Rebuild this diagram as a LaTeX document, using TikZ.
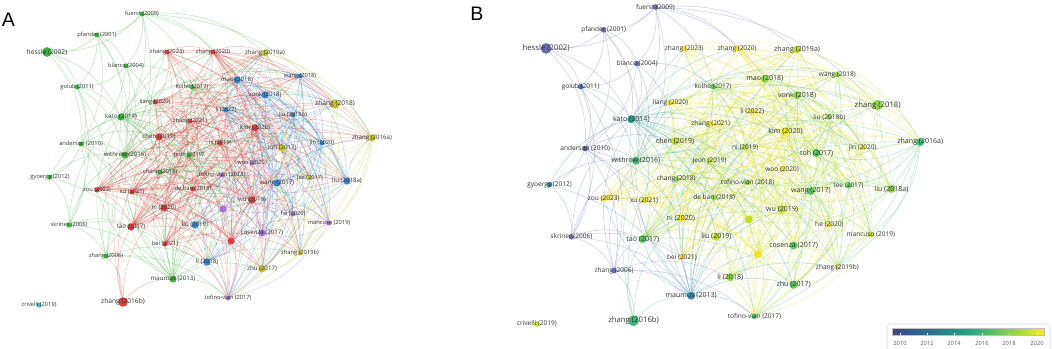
\documentclass[tikz,border=0pt]{standalone}
\usepackage{fontspec}
\setmainfont{Liberation Sans}
\newfontfamily\labfont{Open Sans}
\pgfdeclarelayer{bg}
\pgfdeclarelayer{edges}
\pgfsetlayers{bg,edges,main}
% cluster colours (panel A)
\definecolor{gA}{HTML}{3DB23D}
\definecolor{rA}{HTML}{E23B3B}
\definecolor{bA}{HTML}{2E88D4}
\definecolor{yA}{HTML}{C6C62A}
\definecolor{pA}{HTML}{A46FDC}
\definecolor{cA}{HTML}{38BCD8}
% year colours (panel B)
\definecolor{yOld}{HTML}{6B6CB8}
\definecolor{y10}{HTML}{5A63AD}
\definecolor{y11}{HTML}{4B70B0}
\definecolor{y12}{HTML}{3D80AD}
\definecolor{y13}{HTML}{2B8FA6}
\definecolor{y14}{HTML}{22A08E}
\definecolor{y16}{HTML}{3BBA78}
\definecolor{y17}{HTML}{5BC663}
\definecolor{y18}{HTML}{8ED548}
\definecolor{y19}{HTML}{C6DF25}
\definecolor{y20}{HTML}{F2E31E}
\definecolor{labc}{HTML}{333333}
\definecolor{v0}{HTML}{414487}
\definecolor{v1}{HTML}{2C728E}
\definecolor{v2}{HTML}{21A585}
\definecolor{v3}{HTML}{7AD151}
\definecolor{v4}{HTML}{FDE725}
\pgfdeclarehorizontalshading{viridis}{100bp}{color(0bp)=(v0); color(25bp)=(v0); color(37.5bp)=(v1); color(50bp)=(v2); color(62.5bp)=(v3); color(75bp)=(v4); color(100bp)=(v4)}
\tikzset{
  dot/.style={circle,inner sep=0pt,draw=none},
  dotA1/.style={dot,minimum size=3.75pt},
  dotA2/.style={dot,minimum size=5.4pt},
  dotA3/.style={dot,minimum size=7.2pt},
  dotB1/.style={dot,minimum size=4.2pt},
  dotB2/.style={dot,minimum size=6pt},
  dotB3/.style={dot,minimum size=8pt},
  lab/.style={inner sep=0pt,text=labc},
  labA1/.style={lab,font=\labfont\fontsize{4.3}{5}\selectfont},
  labA2/.style={lab,font=\labfont\fontsize{4.6}{5.5}\selectfont},
  labA3/.style={lab,font=\labfont\fontsize{5}{6}\selectfont},
  labB1/.style={lab,font=\labfont\fontsize{4.9}{6}\selectfont},
  labB2/.style={lab,font=\labfont\fontsize{5.3}{6.5}\selectfont},
  labB3/.style={lab,font=\labfont\fontsize{5.8}{7}\selectfont},
  link/.style={line width=0.4pt,opacity=0.32,bend left=22},
  panel/.style={inner sep=0pt,font=\fontsize{14.7}{15}\selectfont},
  tick/.style={inner sep=0pt,text=labc!80,font=\labfont\fontsize{4.3}{5}\selectfont},
}
% id, x, y, label, colour A, colour B, size class
\newcommand\nodelist{%
\nd{1}{142}{14}{fuerst (2009)}{gA}{yOld}{1}%
\nd{2}{97}{35}{pfander (2001)}{gA}{yOld}{1}%
\nd{3}{47}{52}{hessle (2002)}{gA}{yOld}{3}%
\nd{4}{126}{66}{blanco (2004)}{gA}{yOld}{1}%
\nd{5}{77}{87}{golub (2011)}{gA}{y11}{1}%
\nd{6}{81}{144}{anderson (2010)}{gA}{y10}{1}%
\nd{7}{50}{177}{gyoergy (2012)}{gA}{y12}{1}%
\nd{8}{69}{225}{skriner (2006)}{gA}{yOld}{1}%
\nd{9}{106}{256}{zhang (2006)}{gA}{yOld}{1}%
\nd{10}{173}{279}{maumus (2013)}{gA}{y13}{2}%
\nd{11}{121}{117}{kato (2014)}{gA}{y14}{2}%
\nd{12}{125}{155}{withrow (2016)}{gA}{y16}{2}%
\nd{13}{192}{87}{kolhe (2017)}{gA}{y17}{1}%
\nd{14}{189}{155}{jeon (2019)}{gA}{y19}{1}%
\nd{15}{160}{172}{chang (2018)}{gA}{y18}{1}%
\nd{16}{167}{52}{zhang (2023)}{rA}{y20}{1}%
\nd{17}{213}{52}{zhang (2020)}{rA}{y20}{1}%
\nd{18}{155}{102}{liang (2020)}{rA}{y20}{1}%
\nd{19}{190}{121}{zhang (2021)}{rA}{y20}{1}%
\nd{20}{255}{128}{kim (2020)}{rA}{y20}{2}%
\nd{21}{159}{137}{chen (2019)}{rA}{y19}{2}%
\nd{22}{220}{143}{ni (2019)}{rA}{y19}{1}%
\nd{23}{97}{190}{zou (2023)}{rA}{y20}{1}%
\nd{24}{132}{192}{xu (2021)}{rA}{y20}{1}%
\nd{25}{193}{189}{de bari (2018)}{rA}{y18}{1}%
\nd{26}{164}{208}{ni (2020)}{rA}{y20}{2}%
\nd{27}{131}{227}{tao (2017)}{rA}{y17}{2}%
\nd{28}{252}{200}{wu (2019)}{rA}{y19}{2}%
\nd{29}{165}{244}{bei (2021)}{rA}{y20}{1}%
\nd{30}{231}{241}{}{rA}{y20}{2}%
\nd{31}{123}{302}{zhang (2016b)}{rA}{y16}{3}%
\nd{32}{237}{80}{mao (2018)}{bA}{y18}{2}%
\nd{33}{226}{110}{li (2022)}{bA}{y20}{1}%
\nd{34}{265}{95}{vonk (2018)}{bA}{y18}{2}%
\nd{35}{300}{76}{wang (2018)}{bA}{y18}{1}%
\nd{36}{293}{115}{liu (2018b)}{bA}{y18}{1}%
\nd{37}{322}{143}{jin (2020)}{bA}{y20}{1}%
\nd{38}{277}{183}{wang (2017)}{bA}{y17}{2}%
\nd{39}{347}{181}{liu (2018a)}{bA}{y18}{2}%
\nd{40}{195}{225}{liu (2019)}{bA}{y19}{2}%
\nd{41}{207}{262}{li (2018)}{bA}{y18}{2}%
\nd{42}{265}{53}{zhang (2019a)}{yA}{y19}{2}%
\nd{43}{335}{104}{zhang (2018)}{yA}{y18}{3}%
\nd{44}{372}{138}{zhang (2016a)}{yA}{y16}{2}%
\nd{45}{282}{148}{toh (2017)}{yA}{y17}{2}%
\nd{46}{310}{178}{lee (2017)}{yA}{y17}{1}%
\nd{47}{300}{253}{zhang (2019b)}{yA}{y19}{1}%
\nd{48}{262}{269}{zhu (2017)}{yA}{y17}{2}%
\nd{49}{252}{163}{woo (2020)}{pA}{y20}{1}%
\nd{50}{222}{175}{tofino-vian (2018)}{pA}{y18}{1}%
\nd{51}{223}{209}{}{pA}{y19}{2}%
\nd{52}{293}{214}{he (2020)}{pA}{y20}{1}%
\nd{53}{329}{223}{mancuso (2019)}{pA}{y19}{1}%
\nd{54}{262}{233}{cosenza (2017)}{pA}{y17}{2}%
\nd{55}{228}{298}{tofino-vian (2017)}{pA}{y17}{1}%
\nd{56}{39}{305}{crivelli (2019)}{cA}{y19}{1}%
}
\newcommand\periph{1/2,1/4,1/3,1/11,1/42,1/43,1/12,1/17,1/32,1/13,2/3,2/5,2/4,2/11,2/6,2/12,3/5,3/6,3/11,4/11,4/6,4/13,4/21,4/12,4/5,5/6,5/11,5/8,5/12,5/9,6/11,6/12,6/7,6/8,6/9,6/10,6/27,6/21,6/26,7/8,7/12,7/10,7/11,8/9,8/27,8/10,8/11,8/12,8/29,9/10,9/27,9/11,9/12,9/31,9/41,9/55,31/27,31/26,31/21,31/10,31/18}
% edges of one panel, prefix #1
\newcommand\edgesof[1]{%
  \foreach \p/\q in \periph {\draw[link,color=c\p] (#1\p) to (#1\q);}
  \foreach \i in {10,...,54}{%
    \pgfmathtruncatemacro\js{\i+1}%
    \foreach \j in {\js,...,55}{%
      \pgfmathtruncatemacro\h{mod(\i*37+\j*91+mod(\i*\j,97)*13,100)}%
      \pgfmathtruncatemacro\ci{\i<16 ? 1 : (\i<32 ? 2 : (\i<42 ? 3 : (\i<49 ? 4 : 5)))}%
      \pgfmathtruncatemacro\cj{\j<16 ? 1 : (\j<32 ? 2 : (\j<42 ? 3 : (\j<49 ? 4 : 5)))}%
      \pgfmathtruncatemacro\thr{(\i==31 || \j==31) ? 0 : (\ci==\cj ? 66 : 38)}%
      \ifnum\h<\thr\relax
        \draw[link,color=c\i] (#1\i) to (#1\j);
      \fi
    }%
  }%
}
\begin{document}
\begin{tikzpicture}[x=0.75pt,y=-0.75pt]
\useasboundingbox (0,0) rectangle (1052,349);
\begin{pgfonlayer}{bg}
\fill[white] (0,0) rectangle (1052,349);
\end{pgfonlayer}
% ---------- panel A ----------
\node[panel] (pa) at (8.5,20) {A};
\def\nd#1#2#3#4#5#6#7{\colorlet{c#1}{#5}\node[dotA#7,fill=c#1] (a#1) at (#2,#3) {};}
\nodelist
\begin{pgfonlayer}{edges}
\edgesof{a}
\end{pgfonlayer}
\def\nd#1#2#3#4#5#6#7{\node[labA#7] (la#1) at (a#1) {#4};}
\nodelist
% ---------- panel B ----------
\node[panel] (pb) at (477,14) {B};
\begin{scope}[shift={(492,-8.2)},xscale=1.151,yscale=1.089]
\def\nd#1#2#3#4#5#6#7{\colorlet{c#1}{#6}\node[dotB#7,fill=c#1] (b#1) at (#2,#3) {};}
\nodelist
\begin{pgfonlayer}{edges}
\edgesof{b}
\end{pgfonlayer}
\def\nd#1#2#3#4#5#6#7{\node[labB#7] (lb#1) at (b#1) {#4};}
\nodelist
\end{scope}
% ---------- colour bar ----------
\draw[draw=black!15,fill=white,rounded corners=3pt] (887,324) rectangle (1050,356);
\shade[shading=viridis,draw=black!25,line width=0.3pt] (892,328) rectangle (1044,335);
\foreach \yr/\xx in {2010/900,2012/927,2014/954,2016/982,2018/1009,2020/1037}{
  \draw[white,line width=0.4pt] (\xx,333) -- (\xx,335);
  \node[tick] (t\yr) at (\xx,343) {\yr};
}
\end{tikzpicture}
\end{document}
